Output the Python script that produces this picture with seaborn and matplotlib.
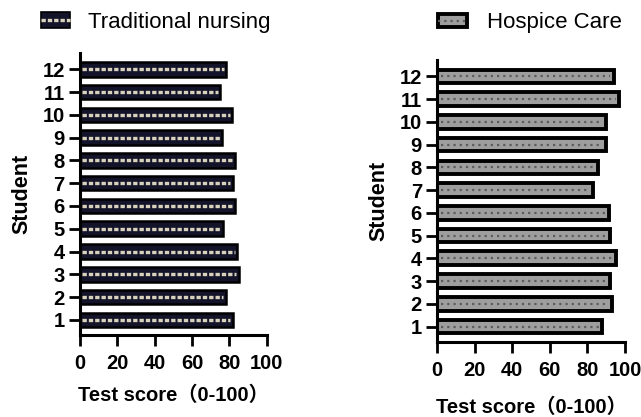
import matplotlib
matplotlib.use("Agg")
import matplotlib.pyplot as plt
from matplotlib.patches import Patch
from matplotlib.lines import Line2D
import seaborn as sns
import pandas as pd

students = list(range(1, 13))
traditional_scores = [81.7, 78, 85, 84, 76.8, 83, 81.7, 83, 76, 81.6, 75, 78.2]
hospice_scores = [88, 93.3, 92, 95, 92, 91.3, 82.8, 85.5, 90, 90, 97, 94]
x_ticks = [0, 20, 40, 60, 80, 100]

sns.set_style("ticks")
plt.rcParams["font.family"] = ["Liberation Sans", "Noto Sans CJK SC"]
for key in ("text.color", "axes.labelcolor", "xtick.color", "ytick.color",
            "axes.edgecolor"):
    plt.rcParams[key] = "black"

trad = pd.DataFrame({"Student": students, "Score": traditional_scores})
hosp = pd.DataFrame({"Student": students, "Score": hospice_scores})
order = students[::-1]

fig = plt.figure(figsize=(6.41, 4.17), dpi=100)
ax1 = fig.add_axes([0.125, 0.197, 0.291, 0.676])
ax2 = fig.add_axes([0.682, 0.181, 0.293, 0.675])

navy = "#13132a"
pale = "#d8d2bc"
grey = "#9e9e9e"
dots = "#5c5c5c"

trad_dash = dict(color=pale, lw=2.4, linestyle=(0, (1.3, 0.6)),
                 dash_capstyle="butt", solid_capstyle="butt")
hosp_dot = dict(color=dots, lw=1.6, linestyle=(0, (1.0, 1.8)),
                dash_capstyle="butt", solid_capstyle="butt")

# Traditional nursing: dark navy bars, black outline, pale dashed texture
sns.barplot(data=trad, x="Score", y="Student", orient="h", order=order,
            color=navy, saturation=1, edgecolor="black", linewidth=1.8,
            width=0.64, errorbar=None, ax=ax1)
# Hospice care: grey bars, heavy black outline, dotted texture
sns.barplot(data=hosp, x="Score", y="Student", orient="h", order=order,
            color=grey, saturation=1, edgecolor="black", linewidth=2.8,
            width=0.6, errorbar=None, ax=ax2)


def add_texture(ax, style, inset):
    for bar in list(ax.patches):
        x0 = bar.get_x()
        w = bar.get_width()
        cy = bar.get_y() + bar.get_height() / 2
        ax.plot([x0 + inset, x0 + w - inset], [cy, cy], zorder=3, **style)


add_texture(ax1, trad_dash, 1.2)
add_texture(ax2, hosp_dot, 2.0)

for ax in (ax1, ax2):
    ax.set_xlim(0, 100)
    ax.set_ylim(11.66, -0.72)
    ax.set_xticks(x_ticks)
    ax.set_xticklabels([str(t) for t in x_ticks])
    sns.despine(ax=ax)
    for side in ("left", "bottom"):
        ax.spines[side].set_linewidth(2.2)
    ax.tick_params(axis="both", length=8, width=2, labelsize=14.5, pad=3)
    ax.tick_params(axis="x", pad=6)
    for lab in ax.get_xticklabels() + ax.get_yticklabels():
        lab.set_fontweight("bold")
    ax.set_ylabel("Student", fontsize=15.5, fontweight="bold", labelpad=7)

ax1.set_xlabel("Test score（0-100）", fontsize=14.5, fontweight="bold",
               labelpad=9)
ax2.set_xlabel("Test score（0-100）", fontsize=14.5, fontweight="bold",
               labelpad=13)

h1 = (Patch(facecolor=navy, edgecolor="black", linewidth=1.2),
      Line2D([], [], **trad_dash))
h2 = (Patch(facecolor=grey, edgecolor="black", linewidth=2.8),
      Line2D([], [], **hosp_dot))

fig.legend([h1], ["Traditional nursing"], loc="center left",
           bbox_to_anchor=(0.064, 0.947), frameon=False, fontsize=16,
           handlelength=1.3, handleheight=0.7, handletextpad=0.8,
           borderaxespad=0, borderpad=0)
fig.legend([h2], ["Hospice Care"], loc="center left",
           bbox_to_anchor=(0.683, 0.945), frameon=False, fontsize=16,
           handlelength=1.3, handleheight=0.55, handletextpad=0.9,
           borderaxespad=0, borderpad=0)

fig.savefig("out.png", dpi=100)
